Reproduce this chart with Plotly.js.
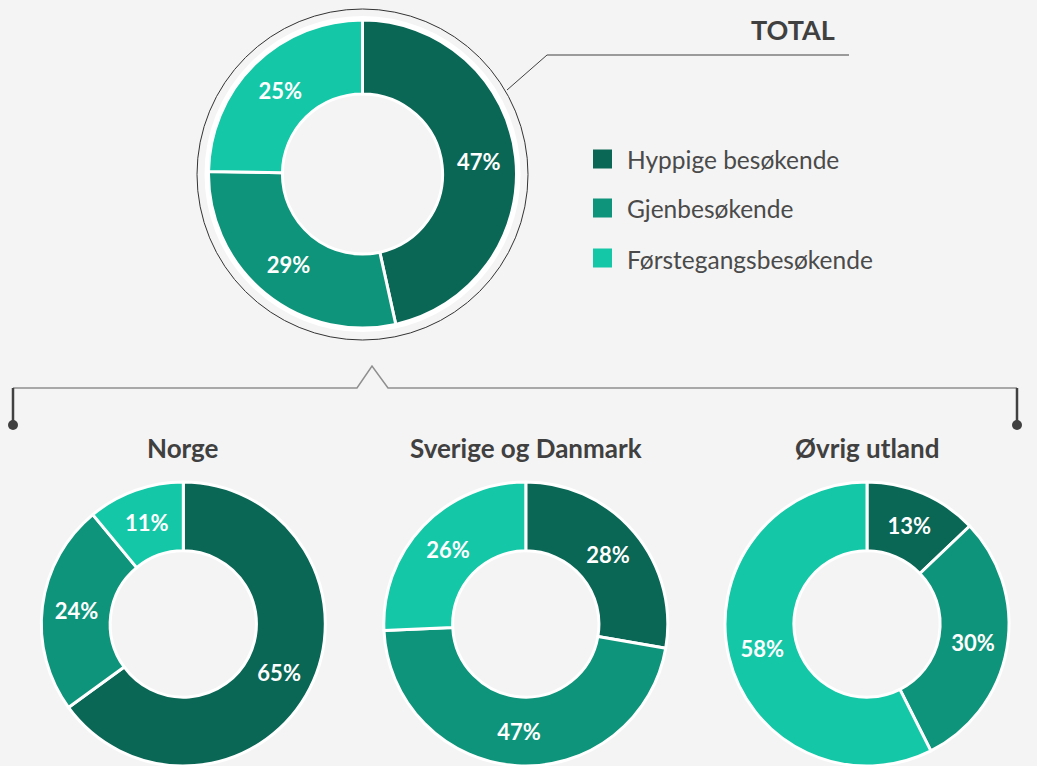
<!DOCTYPE html>
<html><head><meta charset="utf-8">
<script src="https://cdn.plot.ly/plotly-3.0.1.min.js"></script>
<style>html,body{margin:0;padding:0;background:#f4f4f4;}#chart{width:1037px;height:766px;}</style>
</head><body><div id="chart"></div>
<script>
// ---- data ----
const categories = ['Hyppige besøkende', 'Gjenbesøkende', 'Førstegangsbesøkende'];
const sliceColors = ['#0a6655', '#0e947a', '#14c7a7'];
const totalTitle = 'TOTAL';
const totalValues = [47, 29, 25];
const groupNames = ['Norge', 'Sverige og Danmark', 'Øvrig utland'];
const norgeValues = [65, 24, 11];
const sverigeDanmarkValues = [28, 47, 26];
const ovrigUtlandValues = [13, 30, 58];

// ---- geometry ----
const W = 1037, H = 766;
const px = x => x / W;
const py = y => 1 - y / H;
const clamp = v => Math.max(0, Math.min(1, v));
function dom(cx, cy, r) {
  return { x: [clamp(px(cx - r)), clamp(px(cx + r))], y: [clamp(py(cy + r)), clamp(py(cy - r))] };
}
const textFont = { family: 'Lato, "Open Sans", sans-serif', size: 22, color: '#ffffff', weight: 'bold' };
function donut(values, d, hole) {
  return {
    type: 'pie', labels: categories, values: values, sort: false, direction: 'clockwise', rotation: 0,
    hole: hole, domain: d, marker: { colors: sliceColors, line: { color: '#ffffff', width: 3 } },
    textinfo: 'none', texttemplate: '%{value}%', textposition: 'inside', insidetextorientation: 'horizontal',
    textfont: textFont, showlegend: false, hoverinfo: 'label+value'
  };
}
const topPie = { cx: 362.5, cy: 174, r: 154 };
const bottoms = [{ cx: 183.3, cy: 625 }, { cx: 525.8, cy: 625 }, { cx: 867, cy: 625 }];
const bottomR = 143;
const groupValues = [norgeValues, sverigeDanmarkValues, ovrigUtlandValues];

const data = [donut(totalValues, dom(topPie.cx, topPie.cy, topPie.r), 0.52)];
groupValues.forEach((v, i) => data.push(donut(v, dom(bottoms[i].cx, bottoms[i].cy, bottomR), 0.515)));

const dark = '#404040', gray = '#8f8f8f';
function circ(cx, cy, r, opts) {
  return Object.assign({ type: 'circle', xref: 'paper', yref: 'paper', x0: px(cx - r), x1: px(cx + r), y0: py(cy + r), y1: py(cy - r), layer: 'below' }, opts);
}
function line(x0, y0, x1, y1, color, w) {
  return { type: 'line', xref: 'paper', yref: 'paper', x0: px(x0), y0: py(y0), x1: px(x1), y1: py(y1), line: { color: color, width: w } };
}
const shapes = [
  circ(topPie.cx, topPie.cy, 155, { line: { color: '#ffffff', width: 6 } }),
  circ(topPie.cx, topPie.cy + 0.5, 165.5, { line: { color: '#333333', width: 1 } }),
  line(507, 90, 547, 55, dark, 1),
  line(547, 55, 849, 55, dark, 1),
  { type: 'path', xref: 'paper', yref: 'paper',
    path: `M${px(13)},${py(388)} L${px(357)},${py(388)} L${px(372)},${py(366)} L${px(388)},${py(388)} L${px(1017)},${py(388)}`,
    line: { color: gray, width: 1.5 } },
  line(13, 388, 13, 425, dark, 2.5),
  line(1017, 388, 1017, 425, dark, 2.5),
  circ(13, 425, 5, { fillcolor: dark, line: { width: 0 }, layer: 'above' }),
  circ(1017, 425, 5, { fillcolor: dark, line: { width: 0 }, layer: 'above' })
];
const annotations = [
  { text: totalTitle, x: px(793), y: py(30), xref: 'paper', yref: 'paper', showarrow: false, xanchor: 'center', yanchor: 'middle',
    font: { family: 'Lato, sans-serif', size: 27, color: dark, weight: 'bold' } }
];
groupNames.forEach((g, i) => annotations.push({ text: g, x: px(bottoms[i].cx), y: py(448), xref: 'paper', yref: 'paper', showarrow: false,
  xanchor: 'center', yanchor: 'middle', font: { family: 'Lato, sans-serif', size: 26, color: dark, weight: 'bold' } }));
// custom legend built from categories / colours
const legendY = [159, 208, 258];
categories.forEach((c, i) => {
  shapes.push({ type: 'rect', xref: 'paper', yref: 'paper', x0: px(593), x1: px(612), y0: py(legendY[i] + 9.5), y1: py(legendY[i] - 9.5),
    fillcolor: sliceColors[i], line: { width: 0 } });
  annotations.push({ text: c, x: px(625), y: py(legendY[i] + 1), xref: 'paper', yref: 'paper', showarrow: false, xanchor: 'left', yanchor: 'middle',
    font: { family: 'Lato, sans-serif', size: 24.5, color: '#4a4a4a' } });
});

const layout = {
  width: W, height: H, margin: { l: 0, r: 0, t: 0, b: 0 }, paper_bgcolor: '#f4f4f4', plot_bgcolor: '#f4f4f4',
  showlegend: false, shapes: shapes, annotations: annotations
};
Plotly.newPlot('chart', data, layout, { displayModeBar: false, staticPlot: true });
</script></body></html>
